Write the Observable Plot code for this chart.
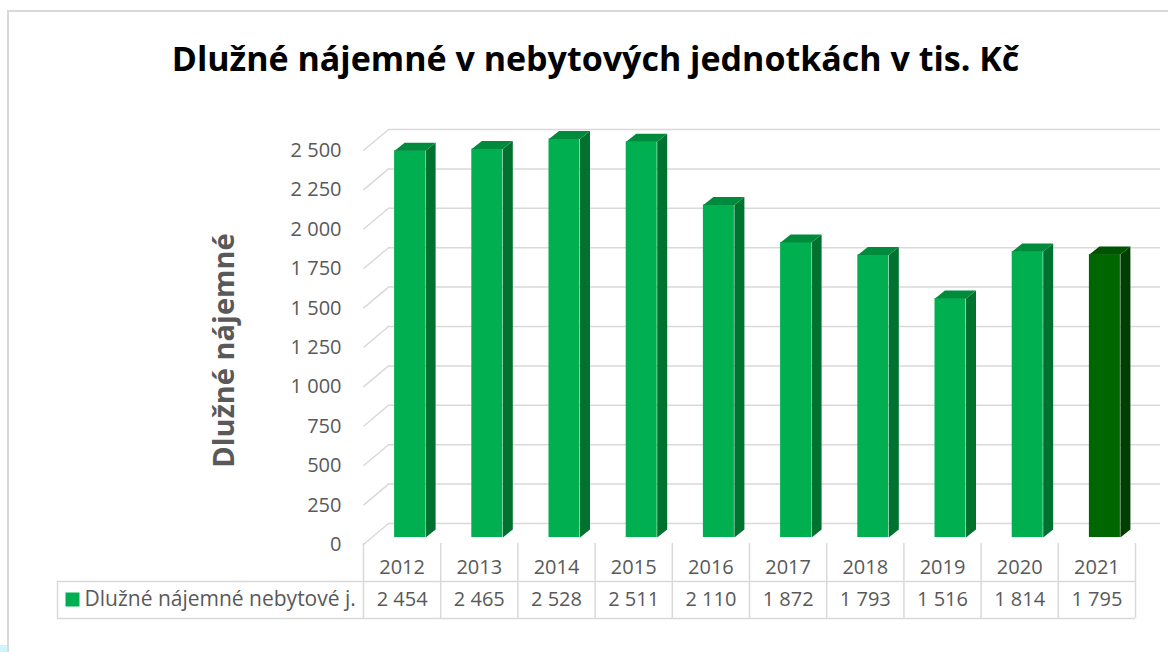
<!DOCTYPE html>
<html>
<head>
<meta charset="utf-8">
<script src="https://cdn.jsdelivr.net/npm/d3@7"></script>
<script src="https://cdn.jsdelivr.net/npm/@observablehq/plot@0.6"></script>
<style>
  html, body { margin: 0; padding: 0; background: #fff; }
  #wrap { position: relative; width: 1168px; height: 652px; overflow: hidden; }
  #border { position: absolute; left: 7px; top: 10px; width: 1400px; height: 900px;
            border: 2px solid #d9d9d9; box-sizing: border-box; }
  #corner { position: absolute; left: 0; top: 645px; width: 7px; height: 7px; background: #ccf6fa; }
  #chart { position: absolute; left: 0; top: 0; }
</style>
</head>
<body>
<div id="wrap">
  <div id="border"></div>
  <div id="corner"></div>
  <div id="chart"></div>
</div>
<script>
// ---- data ----
const years  = [2012, 2013, 2014, 2015, 2016, 2017, 2018, 2019, 2020, 2021];
const values = [2454, 2465, 2528, 2511, 2110, 1872, 1793, 1516, 1814, 1795];
const yTicks = [0, 250, 500, 750, 1000, 1250, 1500, 1750, 2000, 2250, 2500];
const titleText  = "Dlužné nájemné v nebytových jednotkách v tis. Kč";
const yLabelText = "Dlužné nájemné";
const seriesName = "Dlužné nájemné nebytové j.";

// ---- colours ----
const C = {
  front: "#00b050", side: "#00722f", top: "#008b3c",
  frontLast: "#006600", sideLast: "#003f00", topLast: "#005400",
  grid: "#d9d9d9", text: "#595959"
};

// ---- layout ----
const W = 1168, H = 652, ML = 363, MR = 33, MT = 150, MB = 108;
const colW = (W - ML - MR) / years.length;     // px per category
const yPerPx = 2500 / (H - MT - MB);            // data units per px
const faceHalf = 15.5 / colW;                    // half bar face width (x units)
const depX = 10 / colW, depY = 8 * yPerPx;       // bar depth
const wallX = 25 / colW, wallY = 21 * yPerPx;    // back wall depth

const locale = d3.formatLocale({decimal: ",", thousands: "\u00a0", grouping: [3]});
const fmt = locale.format(",d");

const data = years.map((year, i) => ({i, year, value: values[i], last: i === years.length - 1}));
const sidePts = data.flatMap(d => [
  {i: d.i, x: d.i + faceHalf,        y: 0,               c: d.last ? C.sideLast : C.side},
  {i: d.i, x: d.i + faceHalf,        y: d.value,         c: d.last ? C.sideLast : C.side},
  {i: d.i, x: d.i + faceHalf + depX, y: d.value + depY,  c: d.last ? C.sideLast : C.side},
  {i: d.i, x: d.i + faceHalf + depX, y: depY,            c: d.last ? C.sideLast : C.side}
]);
const topPts = data.flatMap(d => [
  {i: d.i, x: d.i - faceHalf,        y: d.value,        c: d.last ? C.topLast : C.top},
  {i: d.i, x: d.i + faceHalf,        y: d.value,        c: d.last ? C.topLast : C.top},
  {i: d.i, x: d.i + faceHalf + depX, y: d.value + depY, c: d.last ? C.topLast : C.top},
  {i: d.i, x: d.i - faceHalf + depX, y: d.value + depY, c: d.last ? C.topLast : C.top}
]);
const bounds = d3.range(years.length + 1).map(k => k - 0.5);

const barShift = {dx: 8, dy: -7};
const txt = {fontSize: 20, fill: C.text};

const chart = Plot.plot({
  width: W, height: H,
  marginLeft: ML, marginRight: MR, marginTop: MT, marginBottom: MB,
  x: {domain: [-0.5, years.length - 0.5], axis: null},
  y: {domain: [0, 2500], axis: null},
  color: {type: "identity"},
  style: {fontFamily: "'Open Sans', sans-serif", background: "transparent", overflow: "visible"},
  marks: [
    // back wall grid + side wall slants
    Plot.ruleY(yTicks, {stroke: C.grid, strokeWidth: 1.5, dx: 25, dy: -21}),
    Plot.link(yTicks, {x1: -0.5, y1: d => d, x2: -0.5 + wallX, y2: d => d + wallY, stroke: C.grid, strokeWidth: 1.5}),
    // 3D bars
    Plot.rectY(data, {x1: d => d.i - faceHalf, x2: d => d.i + faceHalf, y: "value",
      fill: d => d.last ? C.frontLast : C.front, ...barShift}),
    Plot.line(sidePts, {x: "x", y: "y", z: "i", fill: "c", stroke: "none", ...barShift}),
    Plot.line(topPts, {x: "x", y: "y", z: "i", fill: "c", stroke: "none", ...barShift}),
    // y axis
    Plot.axisY(yTicks, {tickSize: 0, tickPadding: 22, tickFormat: fmt, fontSize: 20, fill: C.text, label: null}),
    Plot.text([yLabelText], {frameAnchor: "left", textAnchor: "middle", rotate: -90, dx: -139, dy: 3,
      fontSize: 29, fontWeight: "bold", fill: C.text}),
    // title
    Plot.text([titleText], {frameAnchor: "top", textAnchor: "middle", dx: -154, dy: -104, fontSize: 34, fontWeight: "bold", fill: "#000"}),
    // data table
    Plot.ruleX(bounds, {x: d => d, y1: 0, y2: 0, insetTop: -1, insetBottom: -74, stroke: C.grid, strokeWidth: 1.5}),
    Plot.ruleX([-0.5], {x: d => d, y1: 0, y2: 0, insetTop: 37, insetBottom: -74, dx: -306, stroke: C.grid, strokeWidth: 1.5}),
    Plot.ruleY([0], {x1: -0.5, x2: years.length - 0.5, insetLeft: -306, dy: 37, stroke: C.grid, strokeWidth: 1.5}),
    Plot.ruleY([0], {x1: -0.5, x2: years.length - 0.5, insetLeft: -306, dy: 74, stroke: C.grid, strokeWidth: 1.5}),
    Plot.text(data, {x: "i", y: 0, text: d => String(d.year), dy: 23, ...txt}),
    Plot.text(data, {x: "i", y: 0, text: d => fmt(d.value), dy: 55, ...txt}),
    Plot.dot([seriesName], {x: -0.5, y: 0, dx: -291, dy: 55, symbol: "square", r: 7.9, fill: C.front, stroke: "none"}),
    Plot.text([seriesName], {x: -0.5, y: 0, dx: -279, dy: 55, textAnchor: "start", fontSize: 21, fill: C.text})
  ]
});
document.getElementById("chart").appendChild(chart);
</script>
</body>
</html>
